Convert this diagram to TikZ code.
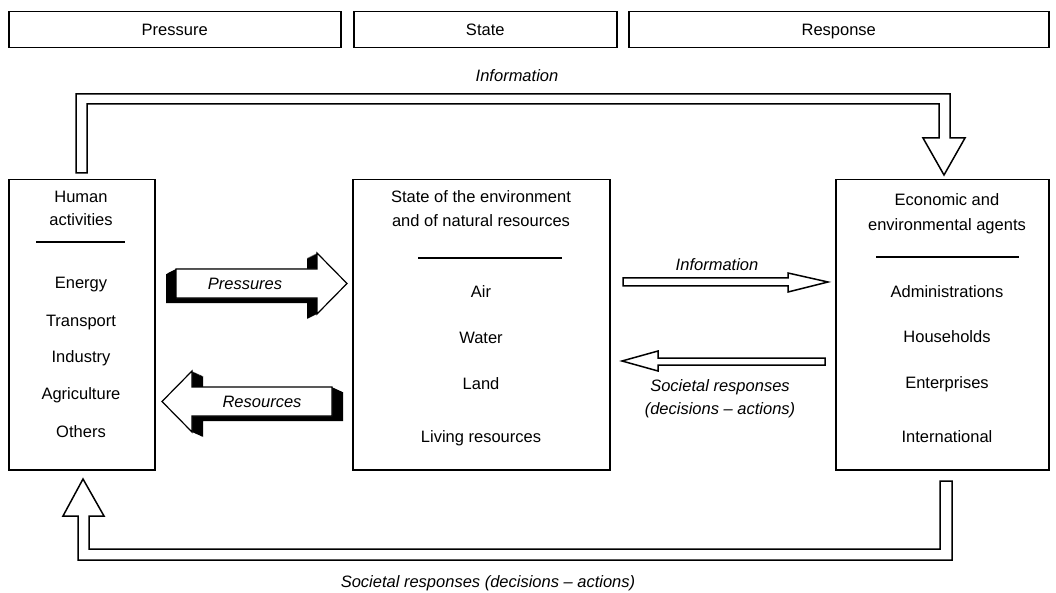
\documentclass[tikz,border=0pt]{standalone}
\usepackage{fontspec}
\setmainfont{Liberation Sans}
\begin{document}
\begin{tikzpicture}[x=1pt,y=-1pt,line join=miter]
\tikzset{
  box/.style={draw,line width=1.5pt,inner sep=0pt,anchor=north west},
  txt/.style={inner sep=0pt,text height=15pt,text depth=3.5pt,font=\fontsize{16.5}{19}\selectfont},
  lbl/.style={inner sep=0pt,text height=15pt,text depth=3.5pt,font=\fontsize{16.5}{19}\selectfont\itshape},
  blk/.style={draw,fill=white,line width=1.5pt},
  rule/.style={line width=1.3pt}
}
\useasboundingbox (0,0) rectangle (1056,593);
% header boxes
\node[box,minimum width=332pt,minimum height=36pt] (hp) at (8,11) {};
\node[txt] (hpt) at (hp.center) {Pressure};
\node[box,minimum width=263pt,minimum height=36pt] (hs) at (353,11) {};
\node[txt] (hst) at (hs.center) {State};
\node[box,minimum width=420pt,minimum height=36pt] (hr) at (628,11) {};
\node[txt] (hrt) at (hr.center) {Response};
% main boxes
\node[box,minimum width=146pt,minimum height=290pt] (ha) at (8,179) {};
\node[box,minimum width=257pt,minimum height=290pt] (se) at (352,179) {};
\node[box,minimum width=213pt,minimum height=290pt] (ea) at (835,179) {};
% left box texts
\node[txt] (ha1) at (81,197) {Human};
\node[txt] (ha2) at (81,220) {activities};
\draw[rule] (36,242) -- (125,242);
\node[txt] (ha3) at (81,283) {Energy};
\node[txt] (ha4) at (81,321) {Transport};
\node[txt] (ha5) at (81,357) {Industry};
\node[txt] (ha6) at (81,394) {Agriculture};
\node[txt] (ha7) at (81,432) {Others};
% middle box texts
\node[txt] (se1) at (481,197) {State of the environment};
\node[txt] (se2) at (481,221) {and of natural resources};
\draw[rule] (418,258) -- (562,258);
\node[txt] (se3) at (481,292) {Air};
\node[txt] (se4) at (481,338) {Water};
\node[txt] (se5) at (481,384) {Land};
\node[txt] (se6) at (481,437) {Living resources};
% right box texts
\node[txt] (ea1) at (947,200) {Economic and};
\node[txt] (ea2) at (947,225) {environmental agents};
\draw[rule] (876,257) -- (1019,257);
\node[txt] (ea3) at (947,292) {Administrations};
\node[txt] (ea4) at (947,337) {Households};
\node[txt] (ea5) at (947,383) {Enterprises};
\node[txt] (ea6) at (947,437) {International};
% top information arrow
\draw[blk] (76,173) -- (76,94) -- (950,94) -- (950,138) -- (965,138) -- (944,175)
  -- (923,138) -- (939,138) -- (939,104) -- (87,104) -- (87,173) -- cycle;
\node[lbl] (inf1) at (517,76) {Information};
% bottom societal arrow
\draw[blk] (83,479) -- (104,516) -- (89,516) -- (89,549) -- (940,549) -- (940,481)
  -- (952,481) -- (952,560) -- (78,560) -- (78,516) -- (63,516) -- cycle;
\node[lbl] (soc1) at (488,582) {Societal responses (decisions -- actions)};
% middle information arrow
\draw[blk] (623,278) -- (788,278) -- (788,273) -- (828,282) -- (788,292) -- (788,286) -- (623,286) -- cycle;
\node[lbl] (inf2) at (717,265) {Information};
% societal responses arrow
\draw[blk] (825,358) -- (658,358) -- (658,351) -- (622,361) -- (658,371) -- (658,365) -- (825,365) -- cycle;
\node[lbl] (soc2) at (720,386) {Societal responses};
\node[lbl] (soc3) at (720,409) {(decisions -- actions)};
% Pressures 3D arrow
\def\presspath{(176,269) -- (317,269) -- (317,253) -- (347,283.5) -- (317,314) -- (317,298) -- (176,298) -- cycle}
\foreach \t in {0,0.05,...,1.001} {\fill[black,shift={(-10*\t,5*\t)}] \presspath;}
\draw[blk,line width=1.2pt] \presspath;
\node[lbl] (prl) at (245,284) {Pressures};
% Resources 3D arrow
\def\respath{(162,401.5) -- (192,371) -- (192,387) -- (332,387) -- (332,416) -- (192,416) -- (192,432) -- cycle}
\foreach \t in {0,0.05,...,1.001} {\fill[black,shift={(11*\t,5*\t)}] \respath;}
\draw[blk,line width=1.2pt] \respath;
\node[lbl] (rsl) at (262,402) {Resources};
\end{tikzpicture}
\end{document}
